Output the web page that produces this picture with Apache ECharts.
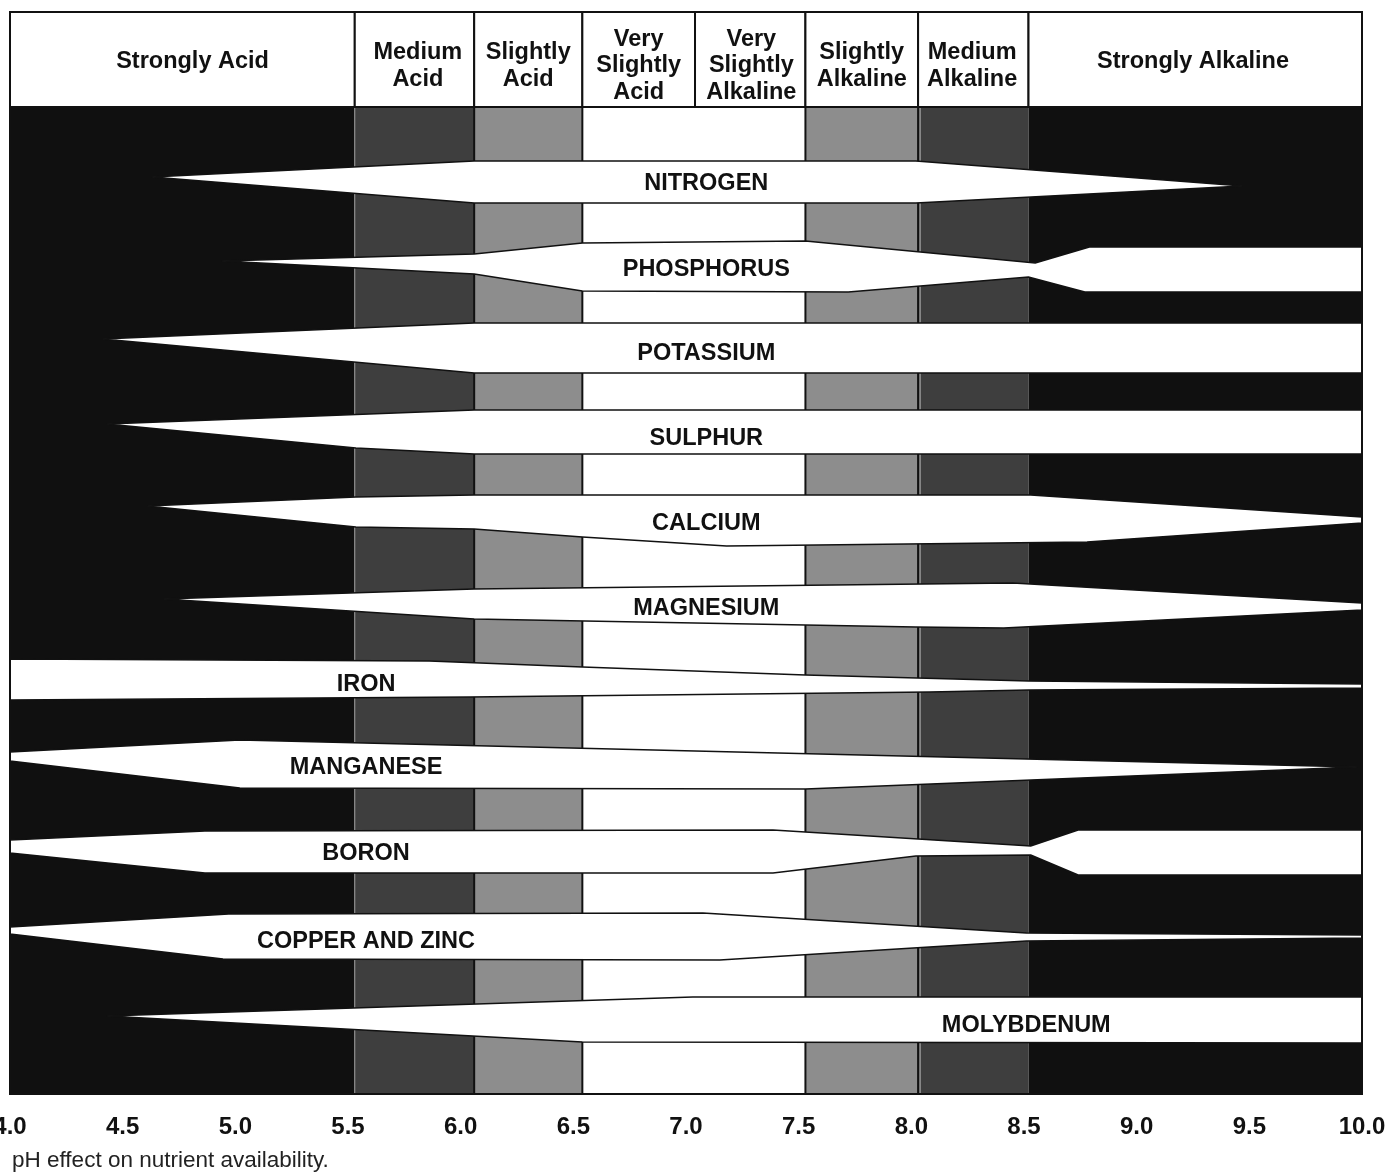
<!DOCTYPE html>
<html><head><meta charset="utf-8">
<script src="https://cdn.jsdelivr.net/npm/echarts@6/dist/echarts.min.js"></script>
<style>html,body{margin:0;padding:0;background:#fff}#c{width:1389px;height:1173px}</style>
</head><body><div id="c"></div>
<script>
// ---------- data ----------
const phTicks = [4.0, 4.5, 5.0, 5.5, 6.0, 6.5, 7.0, 7.5, 8.0, 8.5, 9.0, 9.5, 10.0];
const zoneNames = ['Strongly Acid', 'Medium\nAcid', 'Slightly\nAcid', 'Very\nSlightly\nAcid',
  'Very\nSlightly\nAlkaline', 'Slightly\nAlkaline', 'Medium\nAlkaline', 'Strongly Alkaline'];
const zoneEdges = [4.0, 5.53, 6.06, 6.54, 7.04, 7.53, 8.03, 8.52, 10.0];
const zoneLabelPH = [4.81, 5.81, 6.30, 6.79, 7.29, 7.78, 8.27, 9.25];

const nutrientNames = ['NITROGEN', 'PHOSPHORUS', 'POTASSIUM', 'SULPHUR', 'CALCIUM', 'MAGNESIUM',
  'IRON', 'MANGANESE', 'BORON', 'COPPER AND ZINC', 'MOLYBDENUM'];
const nutrientLabelPH = [7.09, 7.09, 7.09, 7.09, 7.09, 7.09, 5.58, 5.58, 5.58, 5.58, 8.51];
const nutrientLabelDepth = [74, 160, 244, 329, 414, 499, 575, 658, 744, 832, 916];

// band edges: [pH, depth] (depth grows downward)
const nitrogenUpper = [[4.63, 70], [6.06, 54], [8.02, 54], [9.47, 79]];
const nitrogenLower = [[4.63, 70], [6.06, 96], [8.02, 96], [9.47, 79]];
const phosphorusUpper = [[4.94, 154], [6.06, 147], [6.54, 136], [7.53, 134], [8.55, 156], [8.79, 140], [10, 140]];
const phosphorusLower = [[4.94, 154], [6.06, 167], [6.54, 184], [7.72, 185], [8.52, 170], [8.77, 185], [10, 185]];
const potassiumUpper = [[4.41, 232], [6.06, 216], [10, 216]];
const potassiumLower = [[4.41, 232], [6.06, 266], [10, 266]];
const sulphurUpper = [[4.43, 317], [6.06, 303], [10, 303]];
const sulphurLower = [[4.43, 317], [5.535, 341], [6.06, 347], [10, 347]];
const calciumUpper = [[4.61, 399], [5.535, 390], [6.06, 388], [8.53, 388], [10, 410]];
const calciumLower = [[4.61, 399], [5.535, 420], [6.06, 422], [6.54, 430], [7.18, 439], [8.78, 435], [10, 416]];
const magnesiumUpper = [[4.68, 492], [6.06, 482], [8.45, 476], [10, 496]];
const magnesiumLower = [[4.68, 492], [6.06, 512], [8.02, 520], [8.41, 521], [10, 503]];
const ironUpper = [[4.0, 552], [5.86, 554], [6.54, 560], [7.53, 568], [8.52, 574], [10, 577]];
const ironLower = [[4.0, 593], [6.04, 590], [8.08, 585], [8.52, 583], [10, 581]];
const manganeseUpper = [[4.0, 645], [5.02, 633], [9.98, 660]];
const manganeseLower = [[4.0, 654], [5.02, 681], [7.53, 682], [9.98, 660]];
const boronUpper = [[4.0, 733], [4.865, 724], [7.386, 723], [8.53, 739], [8.74, 723], [10, 723]];
const boronLower = [[4.0, 746], [4.865, 766], [7.386, 766], [8.02, 749], [8.53, 748], [8.74, 768], [10, 768]];
const copperZincUpper = [[4.0, 820], [4.97, 807], [7.075, 806], [8.51, 826], [10, 828]];
const copperZincLower = [[4.0, 827], [4.945, 852], [7.15, 853], [8.51, 834], [10, 831]];
const molybdenumUpper = [[4.43, 909], [7.03, 890], [10, 890]];
const molybdenumLower = [[4.43, 909], [6.54, 935], [10, 936]];

const caption = 'pH effect on nutrient availability.';

// ---------- styles ----------
const zoneShade = ['#101010', '#3e3e3e', '#8d8d8d', '#ffffff', '#ffffff', '#8d8d8d', '#3e3e3e', '#101010'];
const INK = '#111111';
const SANS = '"Liberation Sans", Arial, Helvetica, sans-serif';
const BOLD = 'bold 23.5px ' + SANS;
const DEPTH_MAX = 987;
const HEAD_MAX = 95;

const nutrientUpper = [nitrogenUpper, phosphorusUpper, potassiumUpper, sulphurUpper, calciumUpper,
  magnesiumUpper, ironUpper, manganeseUpper, boronUpper, copperZincUpper, molybdenumUpper];
const nutrientLower = [nitrogenLower, phosphorusLower, potassiumLower, sulphurLower, calciumLower,
  magnesiumLower, ironLower, manganeseLower, boronLower, copperZincLower, molybdenumLower];

const chart = echarts.init(document.getElementById('c'), null, {renderer: 'canvas'});

const option = {
  animation: false,
  backgroundColor: '#ffffff',
  grid: [
    {left: 10, right: 27, top: 107, height: DEPTH_MAX, containLabel: false, outerBoundsMode: 'none'},
    {left: 10, right: 27, top: 12, height: HEAD_MAX, containLabel: false, outerBoundsMode: 'none'}
  ],
  xAxis: [
    {gridIndex: 0, type: 'value', min: 4, max: 10, interval: 0.5,
      axisLine: {show: false}, axisTick: {show: false}, splitLine: {show: false},
      axisLabel: {showMinLabel: true, showMaxLabel: true, margin: 21,
        formatter: v => phTicks.includes(v) ? v.toFixed(1) : '',
        fontSize: 24, fontWeight: 'bold', fontFamily: SANS, color: INK}},
    {gridIndex: 1, type: 'value', min: 4, max: 10, show: false}
  ],
  yAxis: [
    {gridIndex: 0, type: 'value', min: 0, max: DEPTH_MAX, inverse: true, show: false},
    {gridIndex: 1, type: 'value', min: 0, max: HEAD_MAX, inverse: true, show: false}
  ],
  graphic: [{
    type: 'text', left: 12, top: 1149,
    style: {text: caption, font: '22.5px ' + SANS, fill: '#222'}
  }],
  series: [
    { // background zones
      type: 'custom', xAxisIndex: 0, yAxisIndex: 0, silent: true, z: 1,
      data: zoneShade.map((s, i) => [i]),
      renderItem: (params, api) => {
        const i = params.dataIndex;
        const a = api.coord([zoneEdges[i], 0]);
        const b = api.coord([zoneEdges[i + 1], DEPTH_MAX]);
        const children = [{type: 'rect', shape: {x: a[0], y: a[1], width: b[0] - a[0], height: b[1] - a[1]},
          style: {fill: zoneShade[i]}}];
        if (i > 0) {
          const light = (i === 1);
          const dark = (i === 2 || i === 3 || i === 5 || i === 6);
          if (light || dark) {
            children.push({type: 'line', shape: {x1: a[0], y1: a[1], x2: a[0], y2: b[1]},
              style: {stroke: light ? '#9a9a9a' : INK, lineWidth: light ? 1 : 2}});
          }
          if (i === 6) {
            children.push({type: 'line', shape: {x1: a[0] + 2, y1: a[1], x2: a[0] + 2, y2: b[1]},
              style: {stroke: '#bdbdbd', lineWidth: 1}});
          }
        }
        return {type: 'group', children};
      }
    },
    { // nutrient bands
      type: 'custom', xAxisIndex: 0, yAxisIndex: 0, silent: true, z: 3,
      data: nutrientNames.map((n, i) => [i]),
      renderItem: (params, api) => {
        const i = params.dataIndex;
        const pts = nutrientUpper[i].concat(nutrientLower[i].slice().reverse()).map(p => api.coord(p));
        const lp = api.coord([nutrientLabelPH[i], nutrientLabelDepth[i]]);
        return {type: 'group', children: [
          {type: 'polygon', shape: {points: pts},
            style: {fill: '#ffffff', stroke: INK, lineWidth: 1.6, lineJoin: 'miter'}},
          {type: 'text', x: lp[0], y: lp[1] + 2.5,
            style: {text: nutrientNames[i], font: BOLD, fill: INK, align: 'center', verticalAlign: 'middle'}}
        ]};
      }
    },
    { // plot frame
      type: 'custom', xAxisIndex: 0, yAxisIndex: 0, silent: true, z: 5,
      data: [[0]],
      renderItem: (params, api) => {
        const a = api.coord([4, 0]);
        const b = api.coord([10, DEPTH_MAX]);
        return {type: 'rect', shape: {x: a[0], y: a[1], width: b[0] - a[0], height: b[1] - a[1]},
          style: {fill: 'none', stroke: INK, lineWidth: 2}};
      }
    },
    { // header boxes
      type: 'custom', xAxisIndex: 1, yAxisIndex: 1, silent: true, z: 6,
      data: zoneNames.map((n, i) => [i]),
      renderItem: (params, api) => {
        const i = params.dataIndex;
        const a = api.coord([zoneEdges[i], 0]);
        const b = api.coord([zoneEdges[i + 1], HEAD_MAX]);
        const multi = zoneNames[i].indexOf('\n') >= 0;
        const c = api.coord([zoneLabelPH[i], multi ? 51.5 : 47.5]);
        return {type: 'group', children: [
          {type: 'rect', shape: {x: a[0], y: a[1], width: b[0] - a[0], height: b[1] - a[1]},
            style: {fill: '#ffffff', stroke: INK, lineWidth: 2}},
          {type: 'text', x: c[0], y: c[1] + 2.5,
            style: {text: zoneNames[i], font: BOLD, lineHeight: 26.8, fill: INK, align: 'center', verticalAlign: 'middle'}}
        ]};
      }
    }
  ]
};
chart.setOption(option);
</script>
</body></html>
